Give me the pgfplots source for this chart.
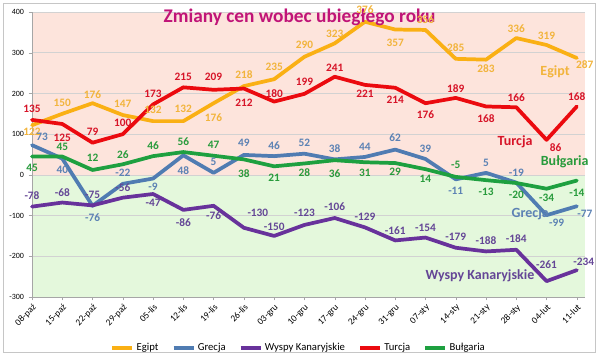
\documentclass[border=0pt]{standalone}
\usepackage{pgfplots}
\pgfplotsset{compat=1.18}
\usepackage{pgfplotstable}
\usepackage{fontspec}
\setmainfont{Carlito}
\definecolor{cEg}{RGB}{250,176,20}
\definecolor{cEgL}{RGB}{242,180,60}
\definecolor{cGr}{RGB}{80,124,178}
\definecolor{cGrL}{RGB}{92,130,180}
\definecolor{cWy}{RGB}{104,50,155}
\definecolor{cWyL}{RGB}{100,70,150}
\definecolor{cTu}{RGB}{235,10,15}
\definecolor{cTuL}{RGB}{215,20,40}
\definecolor{cBu}{RGB}{30,160,64}
\definecolor{cBuL}{RGB}{40,155,60}
\definecolor{pinkbg}{RGB}{253,228,220}
\definecolor{greenbg}{RGB}{228,248,220}
\definecolor{ttl}{RGB}{192,20,120}

\pgfplotstableread{
x y dx dy
0 122 0 -7
1 150 0 11
2 176 0 9
3 147 0 11
4 132 0 11
5 132 0 12
6 176 0 -14
7 218 0 11
8 235 0 12
9 290 0 12
10 323 0 10
11 376 0 12
12 357 0 -13
13 356 0 10
14 285 0 11
15 283 0 -9
16 336 0 9
17 319 0 9
18 287 8 -7
}\egipt
\pgfplotstableread{
x y dx dy
0 135 0 11
1 125 0 -14
2 79 0 11
3 100 0 11
4 173 0 11
5 215 0 11
6 209 0 13
7 212 0 -14
8 180 0 8
9 199 0 12
10 241 0 9
11 221 0 -9
12 214 0 -12
13 176 0 -11
14 189 0 9
15 168 0 -12
16 166 0 10
17 86 9 -8
18 168 0 10
}\turcja
\pgfplotstableread{
x y dx dy
0 73 10 8
1 40 0 -11
2 -76 0 -12
3 -22 0 11
4 -9 0 -8
5 48 0 -15
6 5 0 11
7 49 0 12
8 46 0 10
9 52 0 11
10 38 0 11
11 44 0 10
12 62 0 12
13 39 0 10
14 -11 0 -11
15 5 0 10
16 -19 0 10
17 -99 10 -8
18 -77 8 -8
}\grecja
\pgfplotstableread{
x y dx dy
0 -78 0 11
1 -68 0 10
2 -75 0 11
3 -56 0 10
4 -47 0 -9
5 -86 0 -13
6 -76 0 -10
7 -130 14 15
8 -150 0 9
9 -123 0 12
10 -106 0 11
11 -129 0 11
12 -161 0 10
13 -154 0 10
14 -179 0 11
15 -188 0 11
16 -184 0 11
17 -261 0 16
18 -234 7 8
}\wyspy
\pgfplotstableread{
x y dx dy
0 45 0 -11
1 45 0 10
2 12 0 12
3 26 0 10
4 46 0 10
5 56 0 10
6 47 0 11
7 38 0 -14
8 21 0 -11
9 28 0 -9
10 36 0 -13
11 31 0 -11
12 29 0 -9
13 14 0 -10
14 -5 0 12
15 -13 0 -12
16 -20 0 -12
17 -34 0 -9
18 -14 0 -12
}\bulgaria

\pgfplotsset{
  lab/.style={
    line width=2.8pt, line join=round, line cap=round, no markers,
    nodes near coords,
    visualization depends on={\thisrow{dx}\as\mydx},
    visualization depends on={\thisrow{dy}\as\mydy},
    every node near coord/.append style={anchor=center, font=\fontsize{8.5}{9}\selectfont\bfseries,
      text=#1, xshift=\mydx*0.75pt, yshift=\mydy*0.75pt, inner sep=0pt},
  }
}

\begin{document}
\begin{tikzpicture}
\begin{axis}[
  set layers,
  at={(0,0)}, anchor=south west,
  scale only axis,
  width=414.75pt, height=213.75pt,
  xmin=0, xmax=18.27,
  ymin=-300, ymax=400,
  ytick={-300,-200,...,400},
  xtick={0,...,18},
  xticklabels={08-paź,15-paź,22-paź,29-paź,05-lis,12-lis,19-lis,26-lis,03-gru,10-gru,17-gru,24-gru,31-gru,07-sty,14-sty,21-sty,28-sty,04-lut,11-lut},
  x tick label style={rotate=45, anchor=north east, font=\fontsize{7}{8}\selectfont, inner sep=1.5pt},
  y tick label style={font=\fontsize{6}{7}\selectfont},
  /pgf/number format/assume math mode=true,
  axis lines*=left,
  axis line style={gray!70},
  tick align=outside,
  major tick length=2.5pt,
  tick style={gray!70},
  ymajorgrids,
  major grid style={gray!35, line width=0.4pt},
  clip=false,
  legend columns=-1,
  legend style={draw=none, fill=none, at={(0.483,-0.179)}, anchor=center,
    font=\fontsize{8}{9}\selectfont,
    /tikz/every even column/.append style={column sep=8pt}},
  legend image code/.code={\draw[#1, line width=2.5pt, line cap=butt] (0pt,0pt) -- (15pt,0pt);},
]
\begin{pgfonlayer}{axis background}
\fill[pinkbg] (axis cs:0,0) rectangle (axis cs:18.27,400);
\fill[greenbg] (axis cs:0,-300) rectangle (axis cs:18.27,0);
\end{pgfonlayer}

\addplot[cEg, lab=cEgL] table[x=x,y=y] {\egipt};
\addlegendentry{Egipt}
\addplot[cGr, lab=cGrL] table[x=x,y=y] {\grecja};
\addlegendentry{Grecja}
\addplot[cWy, lab=cWyL] table[x=x,y=y] {\wyspy};
\addlegendentry{Wyspy Kanaryjskie}
\addplot[cTu, lab=cTuL] table[x=x,y=y] {\turcja};
\addlegendentry{Turcja}
\addplot[cBu, lab=cBuL] table[x=x,y=y] {\bulgaria};
\addlegendentry{Bułgaria}

\node[text=ttl, font=\fontsize{14.5}{16}\selectfont\bfseries] at (axis cs:8.84,386) {Zmiany cen wobec ubiegłego roku};
\node[text=cEgL, font=\fontsize{10.5}{12}\selectfont\bfseries] at (axis cs:17.28,252) {Egipt};
\node[text=cTuL, font=\fontsize{10.5}{12}\selectfont\bfseries] at (axis cs:15.96,81) {Turcja};
\node[text=cBuL, font=\fontsize{10.5}{12}\selectfont\bfseries] at (axis cs:17.6,32) {Bułgaria};
\node[text=cGrL, font=\fontsize{10.5}{12}\selectfont\bfseries] at (axis cs:16.46,-96) {Grecja};
\node[text=cWyL, font=\fontsize{10.5}{12}\selectfont\bfseries] at (axis cs:14.8,-248) {Wyspy Kanaryjskie};
\end{axis}
\pgfresetboundingbox
\path[use as bounding box] (-24pt,-43.5pt) rectangle (426pt,222.75pt);
\draw[gray!45, line width=0.6pt] (-21.75pt,-41.25pt) rectangle (422.25pt,220.5pt);
\end{tikzpicture}
\end{document}
